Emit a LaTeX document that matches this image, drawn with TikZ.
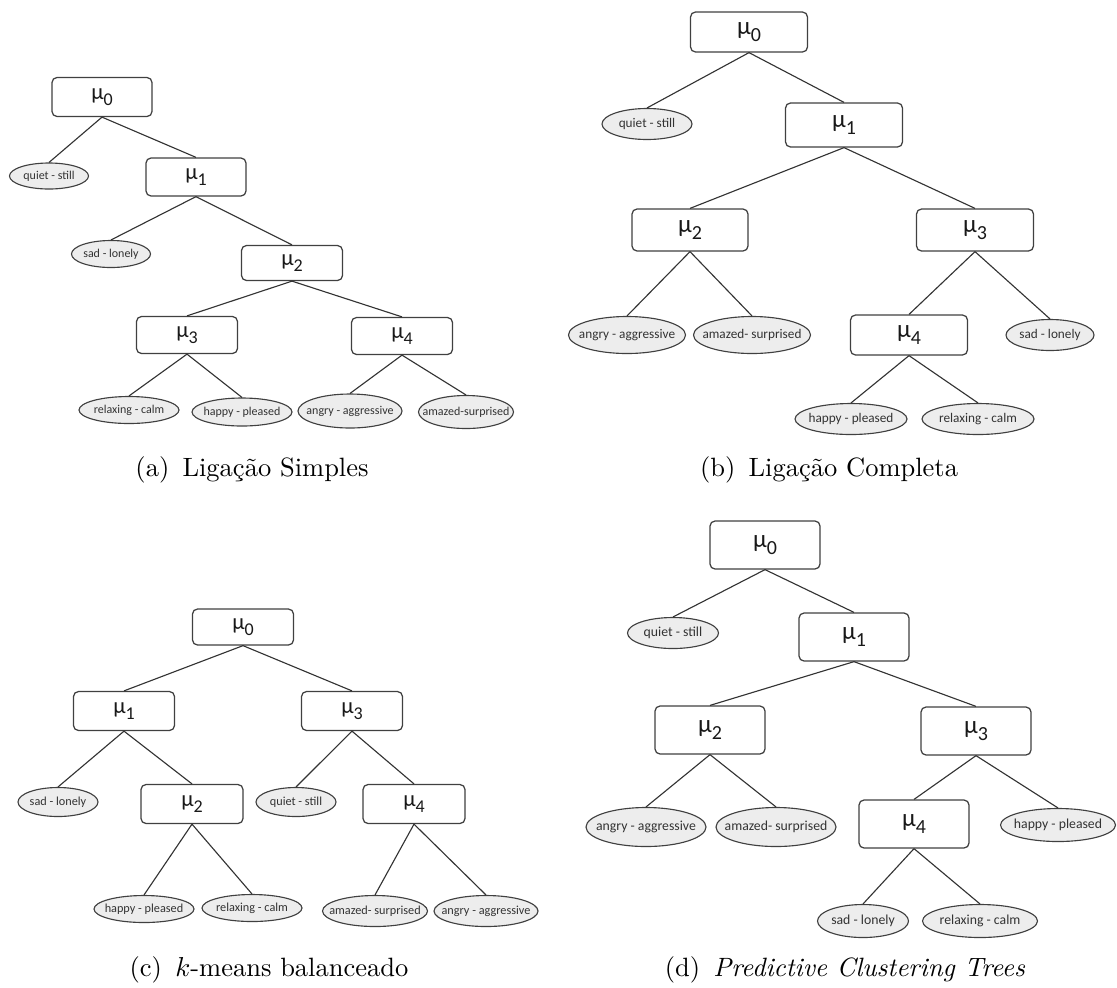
\documentclass[tikz,border=0pt]{standalone}
\usepackage{fontspec}
\newfontfamily\carlito{Carlito}
\usetikzlibrary{shapes.geometric}

\newcommand\mun[1]{μ\raisebox{-0.25em}{\scalebox{0.8}{#1}}}

\tikzset{
  sz/.style 2 args={minimum width=#1*0.4pt, minimum height=#2*0.4pt},
  mubox/.style={draw=black!75, line width=0.5pt, rounded corners=2pt, fill=white,
    inner sep=0pt, text=black!90},
  leaf/.style={ellipse, draw=black!75, line width=0.45pt, fill=black!7, inner sep=0pt,
    text=black!80, execute at begin node={\hbox to 0pt\bgroup\hss},
    execute at end node={\hss\egroup}},
  link/.style={draw=black!80, line width=0.45pt},
  subcap/.style={font=\fontsize{10.6}{12}\selectfont},
}

\begin{document}
\begin{tikzpicture}[x=0.4pt, y=-0.4pt]
\useasboundingbox (0,0) rectangle (1117,987);

% (a)
\begin{scope}[mubox/.append style={font=\carlito\fontsize{9}{10}\selectfont},
  leaf/.append style={font=\carlito\fontsize{4.8}{5}\selectfont}]
\node[mubox, sz={100}{39}] (a0) at (102,97) {\mun{0}};
\node[mubox, sz={100}{38}] (a1) at (196,177) {\mun{1}};
\node[mubox, sz={101}{35}] (a2) at (292,263) {\mun{2}};
\node[mubox, sz={101}{37}] (a3) at (187,335) {\mun{3}};
\node[mubox, sz={101}{37}] (a4) at (402,336) {\mun{4}};

\node[leaf, sz={79}{26}] (aquiet) at (49,176) {quiet - still};
\node[leaf, sz={79}{27}] (asad) at (111,254) {sad - lonely};
\node[leaf, sz={100}{27}] (arelax) at (129,410) {relaxing - calm};
\node[leaf, sz={100}{28}] (ahappy) at (242,412) {happy - pleased};
\node[leaf, sz={104}{34}] (aangry) at (350,411) {angry - aggressive};
\node[leaf, sz={95}{33}] (aamazed) at (466,412) {amazed-surprised};

\draw[link] (a0.south) -- (aquiet.north);
\draw[link] (a0.south) -- (a1.north);
\draw[link] (a1.south) -- (asad.north);
\draw[link] (a1.south) -- (a2.north);
\draw[link] (a2.south) -- (a3.north);
\draw[link] (a2.south) -- (a4.north);
\draw[link] (a3.south) -- (arelax.north);
\draw[link] (a3.south) -- (ahappy.north);
\draw[link] (a4.south) -- (aangry.north);
\draw[link] (a4.south) -- (aamazed.north);
\end{scope}

% (b)
\begin{scope}[mubox/.append style={font=\carlito\fontsize{10}{11}\selectfont},
  leaf/.append style={font=\carlito\fontsize{5.3}{6}\selectfont}]
\node[mubox, sz={117}{40}] (b0) at (749,32) {\mun{0}};
\node[mubox, sz={117}{44}] (b1) at (844,125) {\mun{1}};
\node[mubox, sz={116}{42}] (b2) at (690,230) {\mun{2}};
\node[mubox, sz={117}{42}] (b3) at (975,230) {\mun{3}};
\node[mubox, sz={117}{40}] (b4) at (909,335) {\mun{4}};

\node[leaf, sz={90}{31}] (bquiet) at (647,124) {quiet - still};
\node[leaf, sz={117}{37}] (bangry) at (627,335) {angry - aggressive};
\node[leaf, sz={117}{37}] (bamazed) at (752,335) {amazed- surprised};
\node[leaf, sz={88}{31}] (bsad) at (1050,335) {sad - lonely};
\node[leaf, sz={112}{31}] (bhappy) at (851,419) {happy - pleased};
\node[leaf, sz={112}{31}] (brelax) at (978,419) {relaxing - calm};

\draw[link] (b0.south) -- (bquiet.north);
\draw[link] (b0.south) -- (b1.north);
\draw[link] (b1.south) -- (b2.north);
\draw[link] (b1.south) -- (b3.north);
\draw[link] (b2.south) -- (bangry.north);
\draw[link] (b2.south) -- (bamazed.north);
\draw[link] (b3.south) -- (b4.north);
\draw[link] (b3.south) -- (bsad.north);
\draw[link] (b4.south) -- (bhappy.north);
\draw[link] (b4.south) -- (brelax.north);
\end{scope}

% (c)
\begin{scope}[mubox/.append style={font=\carlito\fontsize{9}{10}\selectfont},
  leaf/.append style={font=\carlito\fontsize{4.9}{5}\selectfont}]
\node[mubox, sz={101}{36}] (c0) at (243,627) {\mun{0}};
\node[mubox, sz={101}{39}] (c1) at (124,711) {\mun{1}};
\node[mubox, sz={101}{39}] (c3) at (352,711) {\mun{3}};
\node[mubox, sz={102}{39}] (c2) at (192,804) {\mun{2}};
\node[mubox, sz={102}{39}] (c4) at (414,804) {\mun{4}};

\node[leaf, sz={80}{29}] (csad) at (58,802) {sad - lonely};
\node[leaf, sz={80}{29}] (cquiet) at (296,802) {quiet - still};
\node[leaf, sz={100}{27}] (chappy) at (144,909) {happy - pleased};
\node[leaf, sz={100}{27}] (crelax) at (252,908) {relaxing - calm};
\node[leaf, sz={105}{31}] (camazed) at (375,911) {amazed- surprised};
\node[leaf, sz={104}{31}] (cangry) at (486,911) {angry - aggressive};

\draw[link] (c0.south) -- (c1.north);
\draw[link] (c0.south) -- (c3.north);
\draw[link] (c1.south) -- (csad.north);
\draw[link] (c1.south) -- (c2.north);
\draw[link] (c3.south) -- (cquiet.north);
\draw[link] (c3.south) -- (c4.north);
\draw[link] (c2.south) -- (chappy.north);
\draw[link] (c2.south) -- (crelax.north);
\draw[link] (c4.south) -- (camazed.north);
\draw[link] (c4.south) -- (cangry.north);
\end{scope}

% (d)
\begin{scope}[mubox/.append style={font=\carlito\fontsize{10}{11}\selectfont},
  leaf/.append style={font=\carlito\fontsize{5.5}{6}\selectfont}]
\node[mubox, sz={110}{48}] (d0) at (765,545) {\mun{0}};
\node[mubox, sz={110}{48}] (d1) at (854,637) {\mun{1}};
\node[mubox, sz={110}{48}] (d2) at (710,730) {\mun{2}};
\node[mubox, sz={110}{48}] (d3) at (976,731) {\mun{3}};
\node[mubox, sz={110}{48}] (d4) at (914,824) {\mun{4}};

\node[leaf, sz={91}{31}] (dquiet) at (673,633) {quiet - still};
\node[leaf, sz={120}{39}] (dangry) at (646,827) {angry - aggressive};
\node[leaf, sz={120}{39}] (damazed) at (776,827) {amazed- surprised};
\node[leaf, sz={115}{33}] (dhappy) at (1058,825) {happy - pleased};
\node[leaf, sz={91}{33}] (dsad) at (863,921) {sad - lonely};
\node[leaf, sz={115}{33}] (drelax) at (980,921) {relaxing - calm};

\draw[link] (d0.south) -- (dquiet.north);
\draw[link] (d0.south) -- (d1.north);
\draw[link] (d1.south) -- (d2.north);
\draw[link] (d1.south) -- (d3.north);
\draw[link] (d2.south) -- (dangry.north);
\draw[link] (d2.south) -- (damazed.north);
\draw[link] (d3.south) -- (d4.north);
\draw[link] (d3.south) -- (dhappy.north);
\draw[link] (d4.south) -- (dsad.north);
\draw[link] (d4.south) -- (drelax.north);
\end{scope}

\node[subcap] (capa) at (252,470) {(a)\enspace Ligação Simples};
\node[subcap] (capb) at (829,470) {(b)\enspace Ligação Completa};
\node[subcap] (capc) at (269,970) {(c)\enspace $k$-means balanceado};
\node[subcap] (capd) at (845,970) {(d)\enspace \textit{Predictive Clustering Trees}};
\end{tikzpicture}
\end{document}
